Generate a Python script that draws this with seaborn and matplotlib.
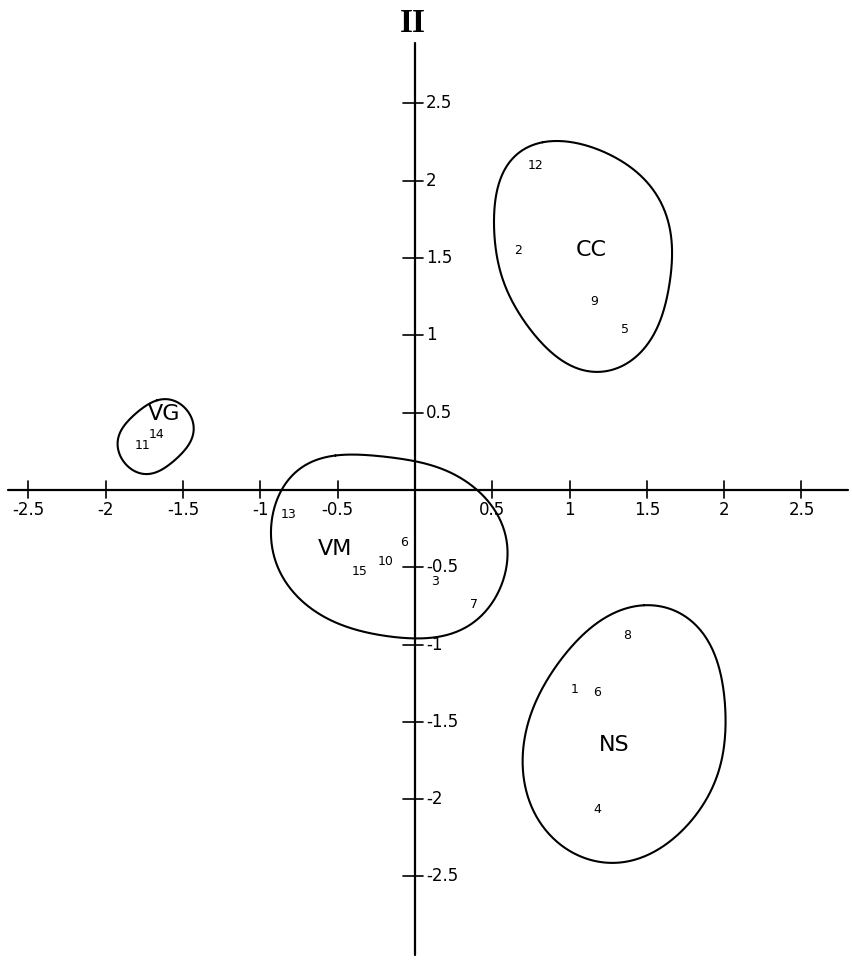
import numpy as np
import pandas as pd
import seaborn as sns
import matplotlib.pyplot as plt

# tick values on the two axes
x_ticks = [-2.5, -2, -1.5, -1, -0.5, 0.5, 1, 1.5, 2, 2.5]
y_ticks = [-2.5, -2, -1.5, -1, -0.5, 0.5, 1, 1.5, 2, 2.5]

# numbered samples (label, axis I, axis II)
point_labels = ['12', '2', '9', '5', '11', '14', '13', '6', '10', '15', '3', '7', '8', '1', '6', '4']
point_x = [0.78, 0.67, 1.16, 1.36, -1.76, -1.67, -0.82, -0.07, -0.19, -0.36, 0.13, 0.38, 1.37, 1.03, 1.18, 1.18]
point_y = [2.10, 1.55, 1.22, 1.04, 0.29, 0.36, -0.16, -0.34, -0.46, -0.53, -0.59, -0.74, -0.94, -1.29, -1.31, -2.07]

# group names and where they sit
group_names = ['CC', 'VG', 'VM', 'NS']
group_x = [1.14, -1.62, -0.52, 1.29]
group_y = [1.55, 0.49, -0.38, -1.65]

# hand drawn outlines round each group
cc_x = [0.83, 1.07, 1.33, 1.52, 1.63, 1.66, 1.63, 1.52, 1.33, 1.13, 0.98, 0.79, 0.63, 0.54, 0.51, 0.55, 0.66]
cc_y = [2.25, 2.23, 2.14, 1.96, 1.77, 1.49, 1.23, 0.97, 0.80, 0.76, 0.82, 0.99, 1.21, 1.47, 1.75, 1.99, 2.18]
vg_x = [-1.67, -1.57, -1.47, -1.44, -1.57, -1.73, -1.86, -1.92, -1.90, -1.83]
vg_y = [0.58, 0.58, 0.51, 0.34, 0.18, 0.10, 0.16, 0.26, 0.39, 0.47]
vm_x = [-0.51, -0.25, -0.01, 0.21, 0.40, 0.55, 0.60, 0.51, 0.29, -0.01, -0.36, -0.68, -0.87, -0.93, -0.86, -0.72]
vm_y = [0.22, 0.22, 0.19, 0.12, 0.0, -0.19, -0.39, -0.71, -0.91, -0.96, -0.91, -0.76, -0.54, -0.26, 0.0, 0.16]
ns_x = [1.48, 1.63, 1.78, 1.95, 2.01, 1.95, 1.78, 1.52, 1.31, 1.15, 0.89, 0.73, 0.70, 0.74, 0.87, 1.05, 1.26]
ns_y = [-0.75, -0.76, -0.84, -1.10, -1.47, -1.86, -2.15, -2.35, -2.42, -2.39, -2.25, -1.99, -1.73, -1.47, -1.21, -0.97, -0.81]


def closed_curve(xs, ys, harmonics=5, n=400):
    # smooth closed outline: least squares fourier fit through the read points
    p = np.column_stack([xs, ys])
    d = np.r_[0, np.cumsum(np.hypot(*np.diff(np.vstack([p, p[:1]]), axis=0).T))]
    t = 2 * np.pi * d[:-1] / d[-1]

    def basis(tt):
        cols = [np.ones_like(tt)]
        for k in range(1, harmonics + 1):
            cols += [np.cos(k * tt), np.sin(k * tt)]
        return np.column_stack(cols)

    coef, *_ = np.linalg.lstsq(basis(t), p, rcond=None)
    tt = np.linspace(0, 2 * np.pi, n)
    return basis(tt) @ coef


sns.set_theme(style='white')
plt.rcParams['font.family'] = ['DejaVu Sans']

fig = plt.figure(figsize=(8.52, 9.61), dpi=100)
ax = fig.add_axes([0, 0, 1, 1])
ax.set_xlim(-2.684, 2.827)
ax.set_ylim(-3.047, 3.169)
ax.axis('off')

# axes through the origin
ax.plot([-2.63, 2.80], [0, 0], color='black', lw=1.6)
ax.plot([0, 0], [-3.01, 2.89], color='black', lw=1.6)

tick_font = dict(fontsize=12, color='black')
for v in x_ticks:
    ax.plot([v, v], [-0.055, 0.06], color='black', lw=1.2)
    ax.text(v, -0.13, f'{v:g}', ha='center', va='center', **tick_font)
for v in y_ticks:
    ax.plot([-0.075, 0.05], [v, v], color='black', lw=1.2)
    ax.text(0.07, v, f'{v:g}', ha='left', va='center', **tick_font)

ax.text(-0.013, 3.02, 'II', ha='center', va='center', fontsize=24, color='black',
        family=['Liberation Serif', 'DejaVu Serif'], fontweight='bold')

outlines = [(cc_x, cc_y, 5), (vg_x, vg_y, 3), (vm_x, vm_y, 5), (ns_x, ns_y, 5)]
for xs, ys, h in outlines:
    c = closed_curve(xs, ys, harmonics=h)
    df = pd.DataFrame({'x': c[:, 0], 'y': c[:, 1]})
    sns.lineplot(data=df, x='x', y='y', sort=False, estimator=None, color='black', lw=1.5, ax=ax)

for lab, x, y in zip(point_labels, point_x, point_y):
    ax.text(x, y, lab, ha='center', va='center', fontsize=9, color='black')

for name, x, y in zip(group_names, group_x, group_y):
    ax.text(x, y, name, ha='center', va='center', fontsize=16, color='black')

fig.savefig('out.png', dpi=100, facecolor='white')
